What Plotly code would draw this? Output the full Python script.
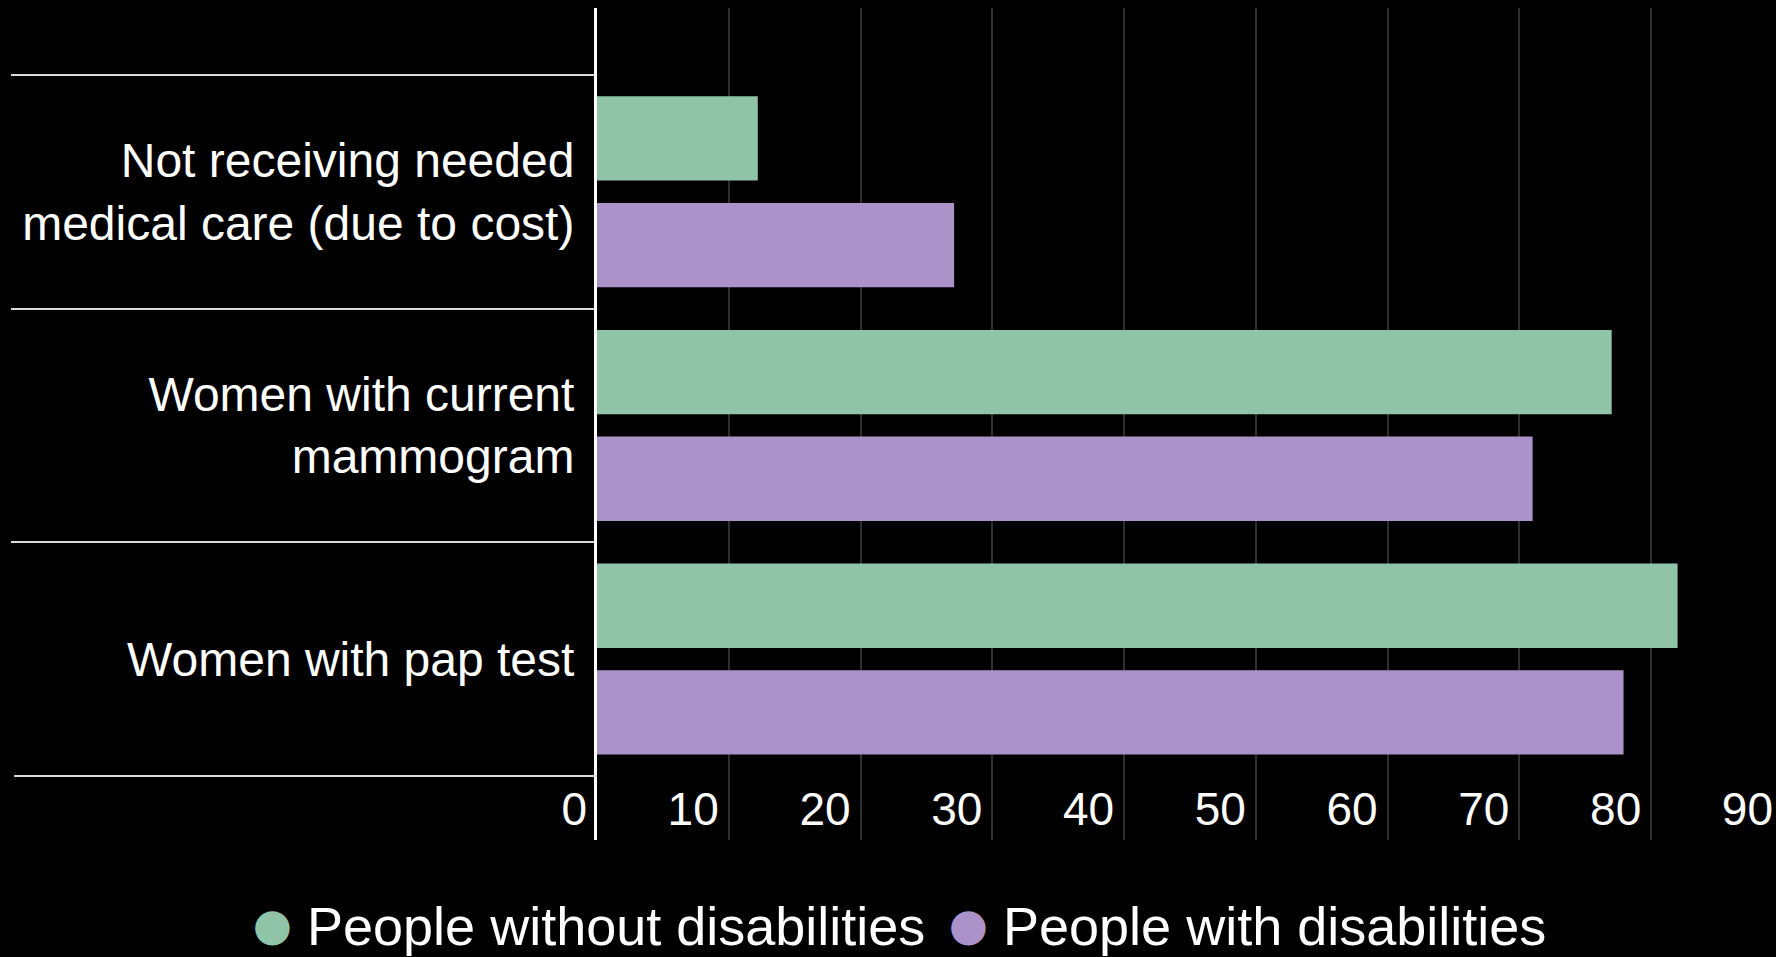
import plotly.graph_objects as go

categories = ["Not receiving needed<br>medical care (due to cost)",
              "Women with current<br>mammogram",
              "Women with pap test"]
series_names = ["People without disabilities", "People with disabilities"]
without_disab = [12.2, 77.0, 82.0]
with_disab = [27.1, 71.0, 77.9]
x_ticks = [0, 10, 20, 30, 40, 50, 60, 70, 80, 90]
colors = ["#8fc4a8", "#ab92c8"]

FONT = "Liberation Sans, Arial, sans-serif"

fig = go.Figure()
for name, vals, col in zip(series_names, [without_disab, with_disab], colors):
    fig.add_trace(go.Bar(y=categories, x=vals, orientation="h", name=name,
                         marker=dict(color=col, line=dict(width=0)),
                         showlegend=False))
# legend entries with large round markers drawn as text glyphs
for name, col in zip(series_names, colors):
    fig.add_trace(go.Scatter(
        x=[None], y=[None], mode="markers",
        marker=dict(color="rgba(0,0,0,0)", size=1),
        name=(f'<span style="color:{col};font-family:\'DejaVu Sans\';'
              f'font-size:45px;baseline-shift:5px">●</span> {name}'),
        showlegend=True))

# separator line below the last category (category boundary)
fig.add_shape(type="line", xref="paper", yref="y",
              x0=-0.4915, x1=0, y0=2.5, y1=2.5,
              line=dict(color="#d9d9d9", width=2), layer="above")

fig.update_layout(
    width=1783, height=957, autosize=False,
    paper_bgcolor="black", plot_bgcolor="black",
    margin=dict(l=597, r=0, t=8, b=117, pad=0, autoexpand=False),
    barmode="group", bargap=0.087, bargroupgap=0.21,
    font=dict(family=FONT, color="white"),
    legend=dict(orientation="h", xref="paper", yref="paper",
                x=-0.324, xanchor="left", y=-0.101, yanchor="middle",
                font=dict(size=54, color="white", family=FONT),
                bgcolor="rgba(0,0,0,0)", itemwidth=30, borderwidth=0,
                entrywidth=651),
    xaxis=dict(range=[0, 90], tickmode="array", tickvals=x_ticks,
               ticktext=[str(t) for t in x_ticks],
               showgrid=True, gridcolor="#2e2e2e", gridwidth=2,
               zeroline=False, showline=False, ticks="",
               ticklabelposition="inside left", ticklabeloverflow="allow",
               ticklabelshift=-10,
               tickfont=dict(size=46, color="white", family=FONT),
               automargin=False),
    yaxis=dict(type="category", categoryorder="array", categoryarray=categories,
               range=[2.774, -0.786], tickson="boundaries", ticks="outside",
               ticklen=583, tickwidth=2, tickcolor="#d9d9d9",
               showline=True, linecolor="white", linewidth=3,
               showgrid=False, zeroline=False,
               ticklabelstandoff=10,
               tickfont=dict(size=48, color="white", family=FONT),
               automargin=False),
)

fig.write_html("out.html", config={"displayModeBar": False},
               post_script="document.body.style.margin='0';"
                           "document.body.style.background='black';"
                           "document.body.style.overflow='hidden';"
                           "document.documentElement.style.overflow='hidden';")
